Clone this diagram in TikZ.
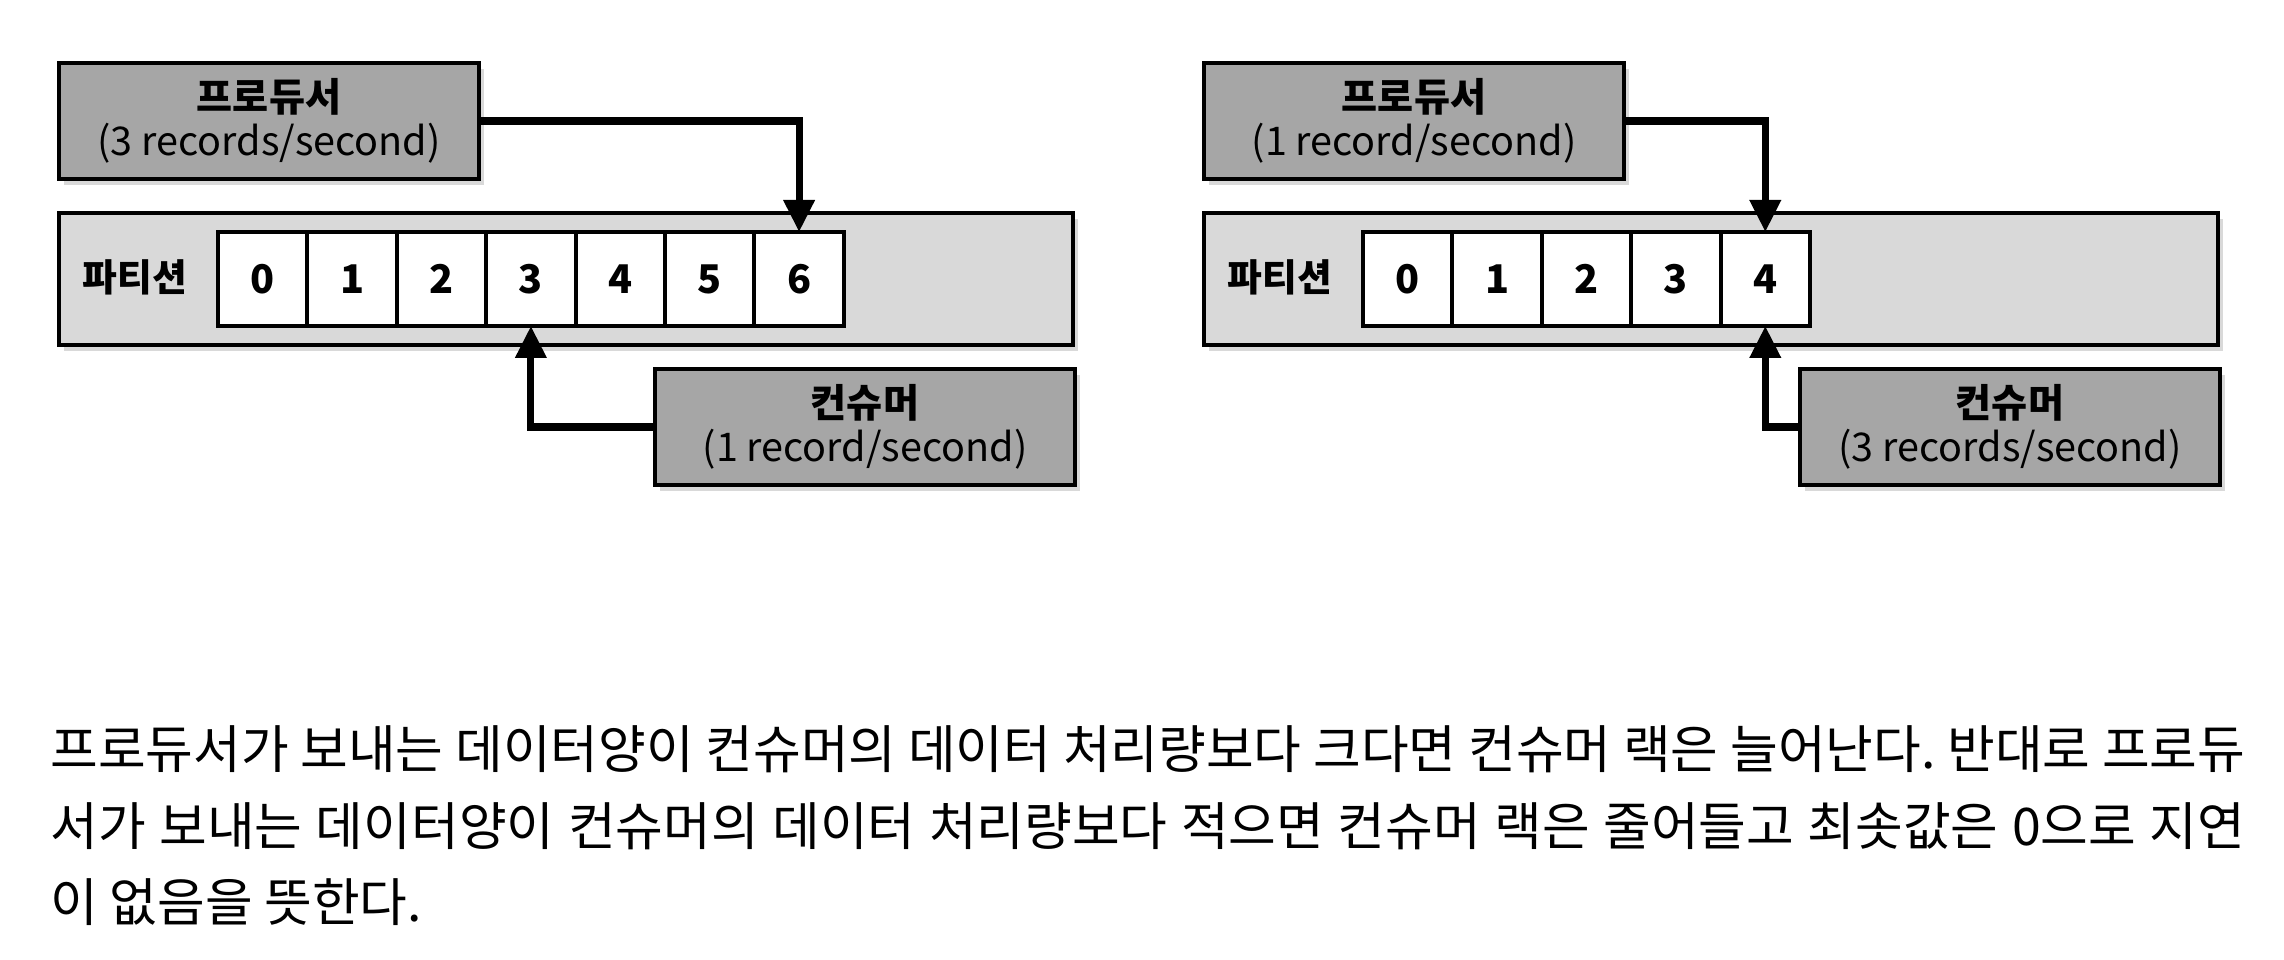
\documentclass[tikz,border=0pt]{standalone}
\usepackage{fontspec}
\setmainfont{Noto Sans CJK KR}
\usepackage{xcolor}
\usetikzlibrary{arrows.meta,positioning,shadows}
\definecolor{boxgray}{RGB}{166,166,166}
\definecolor{partgray}{RGB}{217,217,217}
\newcommand{\boxtitle}[1]{{\bfseries\fontsize{22.3pt}{25pt}\selectfont #1}}
\frenchspacing

\begin{document}
\begin{tikzpicture}[
  ratebox/.style={
    draw, line width=2.6pt, fill=boxgray, inner sep=0pt, align=center,
    minimum width=8.4cm, minimum height=2.32cm,
    font=\fontsize{22.5pt}{25pt}\selectfont,
    drop shadow={shadow xshift=0.1cm, shadow yshift=-0.12cm, opacity=0.3},
  },
  partbox/.style={
    draw, line width=2.6pt, fill=partgray, minimum width=20.28cm,
    minimum height=2.64cm, inner sep=0pt,
    drop shadow={shadow xshift=0.1cm, shadow yshift=-0.12cm, opacity=0.3},
  },
  cell/.style={
    draw, line width=2.2pt, fill=white, minimum width=1.788cm,
    minimum height=1.88cm, inner sep=0pt, outer sep=0pt,
    font=\bfseries\fontsize{22.5pt}{23pt}\selectfont,
  },
  arr/.style={-{Triangle[length=0.64cm, width=0.6cm]}, line width=4pt},
  para/.style={inner sep=0pt, anchor=base west,
    font=\fontsize{29.5pt}{43.7pt}\selectfont},
]
\useasboundingbox (0,0) rectangle (45.68,19.2);
\foreach \s/\dx/\last/\prate/\crate/\cpos in
    {a/0/6/3 records/1 record/3, b/22.9/4/1 record/3 records/4} {
  \begin{scope}[xshift=\dx cm]
  \node[partbox] (part\s) at (11.32, 13.62) {};
  \node[font=\bfseries\fontsize{21.5pt}{20pt}\selectfont] (lbl\s) at (2.70, 13.66) {파티션};
  \foreach \i in {0,...,\last} {
    \node[cell] (cell\s\i) at ({4.36+1.788*(\i+0.5)}, 13.62) {\i};
  }
  \node[ratebox] (prod\s) at (5.38, 16.78) {\boxtitle{프로듀서}\\(\prate/second)};
  \node[ratebox] (cons\s) at (17.30, 10.66) {\boxtitle{컨슈머}\\(\crate/second)};
  \draw[arr] (prod\s.east) -| (cell\s\last.north);
  \draw[arr] (cons\s.west) -| (cell\s\cpos.south);
  \end{scope}
}
% text under the two pictures
\node[para] (line1) at (1.0, 3.82) {\makebox[43.9cm][s]{프로듀서가 보내는 데이터양이 컨슈머의 데이터 처리량보다 크다면 컨슈머 랙은 늘어난다. 반대로 프로듀}};
\node[para] (line2) at (1.0, 2.28) {\makebox[43.9cm][s]{서가 보내는 데이터양이 컨슈머의 데이터 처리량보다 적으면 컨슈머 랙은 줄어들고 최솟값은 0으로 지연}};
\node[para] (line3) at (1.0, 0.76) {이 없음을 뜻한다.};
\end{tikzpicture}
\end{document}
